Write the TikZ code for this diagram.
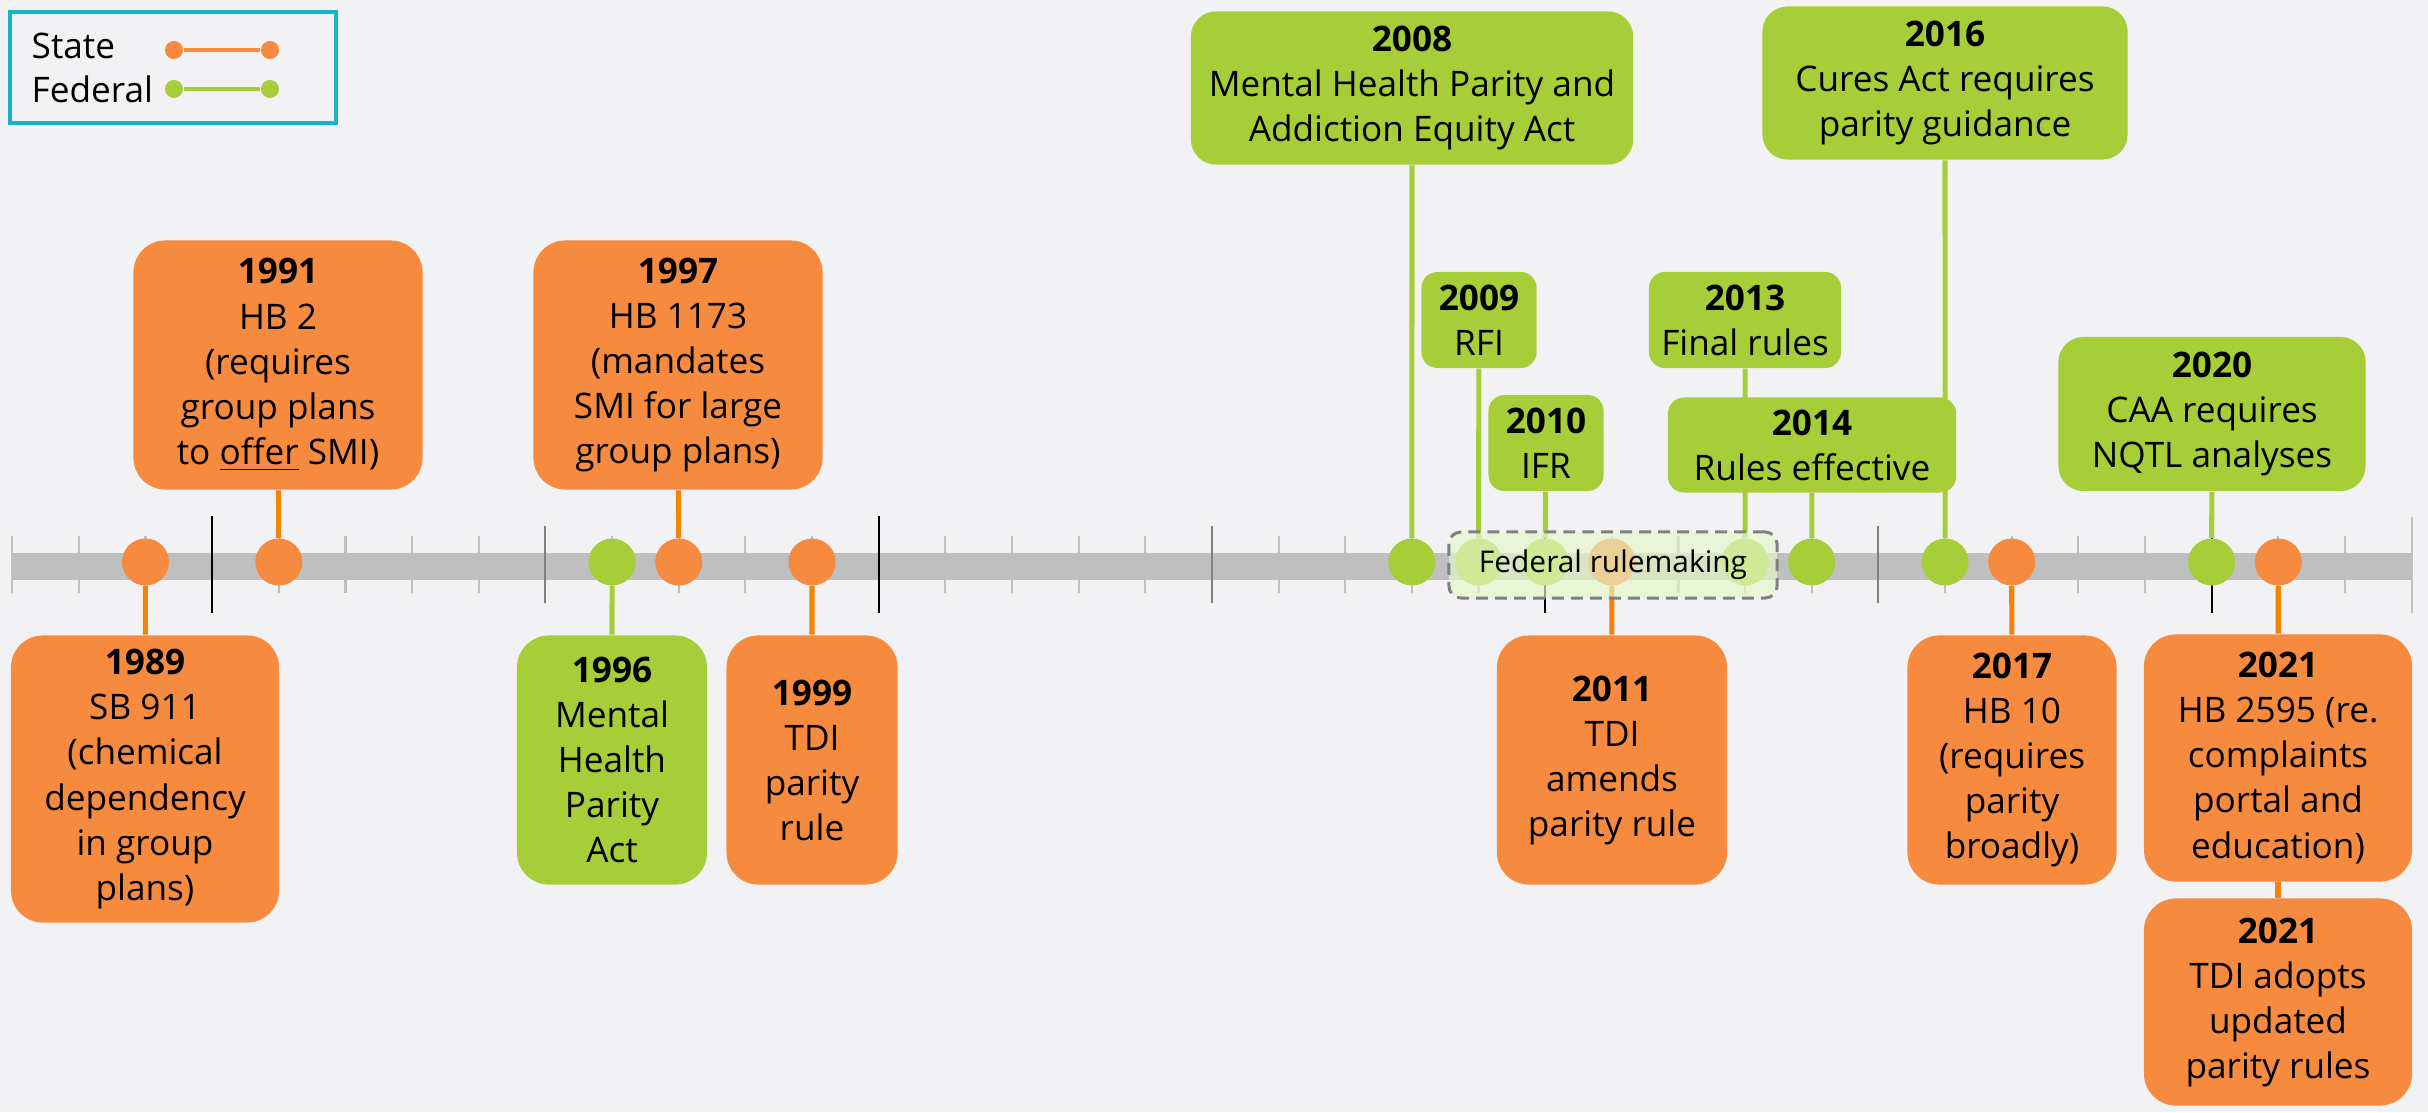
\documentclass[tikz,border=0pt]{standalone}
\usepackage{fontspec}
\setmainfont{Open Sans}
\definecolor{paper}{RGB}{242,242,244}
\definecolor{stateorange}{RGB}{246,139,64}
\definecolor{statewire}{RGB}{244,131,10}
\definecolor{fedgreen}{RGB}{166,206,57}
\definecolor{axisgray}{RGB}{191,191,191}
\definecolor{legendcyan}{RGB}{23,178,203}
\definecolor{rulefill}{RGB}{230,248,200}
\pgfdeclarelayer{back}
\pgfdeclarelayer{links}
\pgfsetlayers{back,links,main}

\begin{document}
\begin{tikzpicture}[x=0.01cm, y=-0.01cm, font=\fontsize{10}{12.8}\selectfont,
    statebox/.style 2 args={rectangle, rounded corners=0.32cm, fill=stateorange, minimum width=#1, minimum height=#2, inner sep=1pt, align=center},
    fedbox/.style 2 args={statebox={#1}{#2}, fill=fedgreen},
    statedot/.style={circle, fill=stateorange, minimum size=0.47cm, inner sep=0pt},
    feddot/.style={statedot, fill=fedgreen},
    stateline/.style={statewire, line width=1.45pt},
    fedline/.style={fedgreen, line width=1.45pt},
    legdot/.style={circle, minimum size=0.18cm, inner sep=0pt}]

    % axis
    \begin{pgfonlayer}{back}
    \fill[paper] (0,0) rectangle (2428,1112);
    \foreach \yr in {1987,...,2023}
        \draw[axisgray, line width=0.6pt] ({145.5+(\yr-1989)*66.65},536) -- ++(0,57);
    \fill[axisgray] (11,553) rectangle (2412,580);
    \foreach \yr in {1990,2000,2010,2020}
        \draw[black, line width=0.6pt] ({145.5+(\yr-1989)*66.65},516) -- ++(0,97);
    \foreach \yr in {1995,2005,2015}
        \draw[gray, line width=0.6pt] ({145.5+(\yr-1989)*66.65},526) -- ++(0,77);
    \draw[axisgray, line width=0.6pt] (2412,517) -- ++(0,96);
    \end{pgfonlayer}

    % dots on the axis
    \foreach \yr in {1989,1991,1997,1999,2011,2017,2021}
        \node[statedot] (d\yr) at ({145.5+(\yr-1989)*66.65},562) {};
    \foreach \yr in {1996,2008,2009,2010,2013,2014,2016,2020}
        \node[feddot] (d\yr) at ({145.5+(\yr-1989)*66.65},562) {};

    % state boxes
    \node[statebox={2.68cm}{2.87cm}] (b1989) at (145,779) {\textbf{1989}\\SB 911\\(chemical\\dependency\\in group\\plans)};
    \node[statebox={2.89cm}{2.49cm}] (b1991) at (278,365) {\textbf{1991}\\HB 2\\(requires\\group plans\\to \underline{offer} SMI)};
    \node[statebox={2.89cm}{2.49cm}] (b1997) at (678,365) {\textbf{1997}\\HB 1173\\(mandates\\SMI for large\\group plans)};
    \node[statebox={1.71cm}{2.49cm}] (b1999) at (812,760) {\textbf{1999}\\TDI\\parity\\rule};
    \node[statebox={2.30cm}{2.49cm}] (b2011) at (1612,760) {\textbf{2011}\\TDI\\amends\\parity rule};
    \node[statebox={2.09cm}{2.49cm}] (b2017) at (2012,760) {\textbf{2017}\\HB 10\\(requires\\parity\\broadly)};
    \node[statebox={2.68cm}{2.47cm}] (b2021) at (2278,758) {\textbf{2021}\\HB 2595 (re.\\complaints\\portal and\\education)};
    \node[statebox={2.68cm}{2.07cm}] (b2021tdi) at (2278,1002) {\textbf{2021}\\TDI adopts\\updated\\parity rules};

    % federal boxes
    \node[fedbox={1.90cm}{2.49cm}] (b1996) at (612,760) {\textbf{1996}\\Mental\\Health\\Parity\\Act};
    \node[fedbox={4.42cm}{1.53cm}, rounded corners=0.25cm] (b2008) at (1412,88) {\textbf{2008}\\Mental Health Parity and\\Addiction Equity Act};
    \node[fedbox={1.15cm}{0.96cm}, rounded corners=0.16cm] (b2009) at (1479,320) {\textbf{2009}\\RFI};
    \node[fedbox={1.15cm}{0.96cm}, rounded corners=0.16cm] (b2010) at (1546,443) {\textbf{2010}\\IFR};
    \node[fedbox={1.92cm}{0.96cm}, rounded corners=0.16cm] (b2013) at (1745,320) {\textbf{2013}\\Final rules};
    \node[fedbox={2.88cm}{0.95cm}, rounded corners=0.16cm] (b2014) at (1812,445) {\textbf{2014}\\Rules effective};
    \node[fedbox={3.65cm}{1.53cm}, rounded corners=0.25cm] (b2016) at (1945,83) {\textbf{2016}\\Cures Act requires\\parity guidance};
    \node[fedbox={3.07cm}{1.54cm}, rounded corners=0.25cm] (b2020) at (2212,414) {\textbf{2020}\\CAA requires\\NQTL analyses};

    % connectors
    \begin{pgfonlayer}{links}
    \foreach \yr in {1989,1991,1997,1999,2011,2017,2021}
        \draw[stateline] (d\yr) -- (b\yr);
    \draw[stateline] (b2021) -- (b2021tdi);
    \foreach \yr in {1996,2008,2009,2010,2013,2014,2016,2020}
        \draw[fedline] (d\yr) -- (b\yr);
    \end{pgfonlayer}

    % rulemaking span
    \node[draw=gray, line width=0.85pt, dash pattern=on 3.4pt off 2pt, rounded corners=0.12cm,
          fill=rulefill, fill opacity=0.65, text opacity=1, minimum width=3.28cm, minimum height=0.66cm,
          font=\fontsize{8.5}{10}\selectfont] (rulemaking) at (1613,565) {Federal rulemaking};

    % legend
    \draw[legendcyan, line width=0.9pt] (10,12) rectangle (336,123);
    \node[anchor=base west, inner sep=0pt] (lstate) at (31,58) {State};
    \node[anchor=base west, inner sep=0pt] (lfed) at (31,102) {Federal};
    \node[legdot, fill=stateorange] (ls1) at (174,50) {};
    \node[legdot, fill=stateorange] (ls2) at (270,50) {};
    \node[legdot, fill=fedgreen] (lf1) at (174,89) {};
    \node[legdot, fill=fedgreen] (lf2) at (270,89) {};
    \draw[stateorange, line width=1.4pt] (ls1) -- (ls2);
    \draw[fedgreen, line width=1.4pt] (lf1) -- (lf2);

\end{tikzpicture}
\end{document}
